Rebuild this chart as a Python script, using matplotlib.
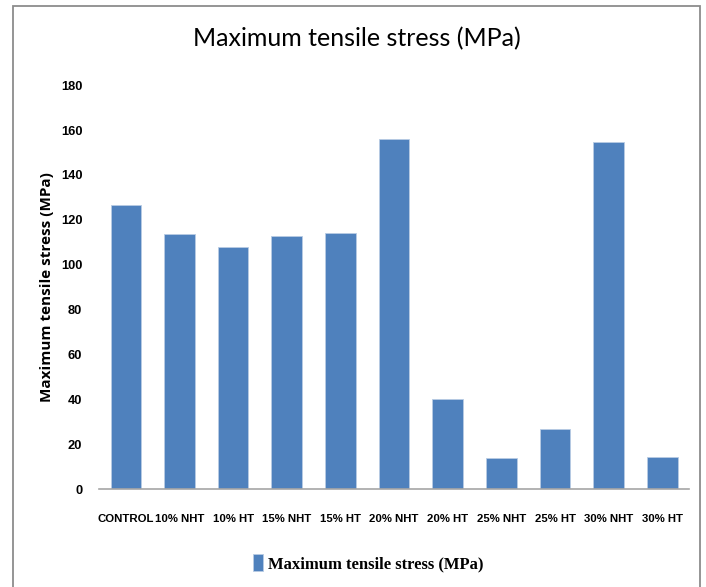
import matplotlib
matplotlib.use("Agg")
import matplotlib.pyplot as plt
from matplotlib.patches import Rectangle
from matplotlib.font_manager import FontProperties

# 数据
categories = ["CONTROL", "10% NHT", "10% HT", "15% NHT", "15% HT", "20% NHT",
              "20% HT", "25% NHT", "25% HT", "30% NHT", "30% HT"]
stress = [126.8, 113.8, 107.7, 112.6, 114.2, 156.1, 40.1, 14.0, 26.7, 154.5, 14.4]
yticks = [0, 20, 40, 60, 80, 100, 120, 140, 160, 180]

bar_color = "#4F81BD"
narrow = ["Liberation Sans", "DejaVu Sans"]

fig = plt.figure(figsize=(7.06, 5.87), dpi=100)
ax = fig.add_axes([0.1402, 0.1664, 0.836, 0.6886])

x = list(range(len(categories)))
ax.bar(x, stress, width=0.57, color=bar_color, edgecolor="#B8CCE4", linewidth=0.6,
       label="Maximum tensile stress (MPa)")

ax.set_xlim(-0.5, len(categories) - 0.5)
ax.set_ylim(0, 180)
ax.set_yticks(yticks)
ax.set_xticks(x)
ax.set_xticklabels(categories, family=narrow, fontweight="bold", fontsize=8.2)
ax.set_yticklabels([str(v) for v in yticks], family=narrow, fontweight="bold", fontsize=9.3)
ax.tick_params(axis="both", length=0, pad=12)
ax.tick_params(axis="x", pad=18)

for s in ["top", "right", "left"]:
    ax.spines[s].set_visible(False)
ax.spines["bottom"].set_color("#A6A6A6")
ax.spines["bottom"].set_linewidth(1.2)

ax.set_ylabel("Maximum tensile stress (MPa)", fontweight="bold", fontsize=11,
              family=["Open Sans", "DejaVu Sans"], labelpad=5)

fig.text(0.505, 0.935, "Maximum tensile stress (MPa)", ha="center", va="center",
         fontsize=18, family=["Lato", "DejaVu Sans"])

leg = ax.legend(loc="center", bbox_to_anchor=(0.457, -0.183), frameon=False,
                handlelength=0.6, handleheight=1.2, handletextpad=0.3,
                prop=FontProperties(family=["Liberation Serif", "DejaVu Serif"],
                                    weight="bold", size=12))

# 外框
fig.patches.append(Rectangle((13 / 706, -0.05), 687 / 706, 1.0 - 6 / 587 + 0.05,
                             transform=fig.transFigure, fill=False,
                             edgecolor="#8C8C8C", linewidth=1.3, clip_on=False))

fig.savefig("out.png", dpi=100)
